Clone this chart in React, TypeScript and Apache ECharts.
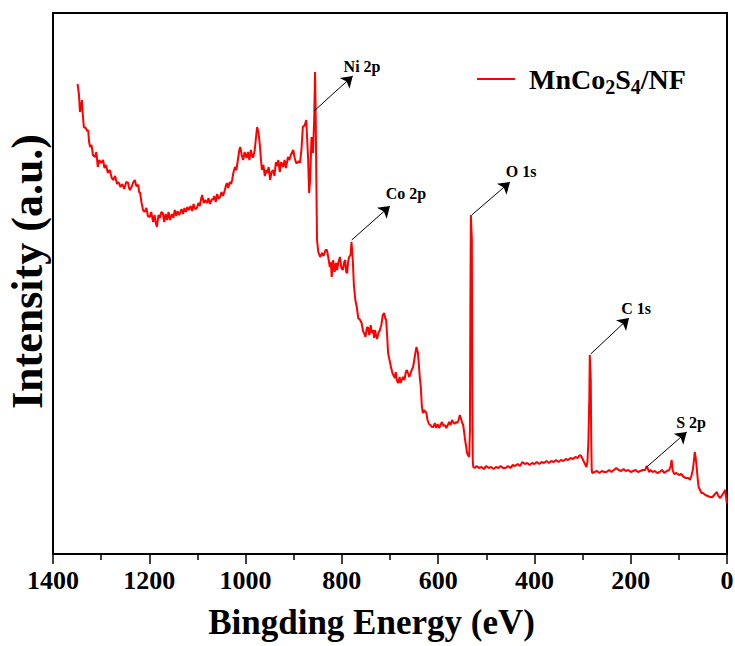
import React, { useEffect, useRef } from "react";
import * as echarts from "echarts";

const FONT = "'Liberation Serif', 'Times New Roman', serif";

// Binding energy (eV)
const energies = [
  1349, 1346, 1344, 1342, 1340, 1338, 1336, 1332, 1329, 1327, 1325, 1323, 1320, 1317, 1313, 1310, 1307, 1304, 1300, 1296,
  1293, 1290, 1286, 1282, 1278, 1275, 1271, 1267, 1264, 1260, 1256, 1252, 1248, 1244, 1242, 1240, 1236, 1233, 1230, 1227,
  1223, 1221, 1219, 1216, 1213, 1210, 1206, 1203, 1199, 1196, 1192, 1189, 1186, 1184, 1181, 1178, 1175, 1172, 1169, 1166,
  1163, 1160, 1157, 1153, 1150, 1147, 1144, 1141, 1138, 1136, 1133, 1130, 1127, 1124, 1121, 1118, 1114, 1111, 1108, 1105,
  1101, 1098, 1095, 1092, 1090, 1087, 1084, 1080, 1077, 1074, 1070, 1068, 1065, 1062, 1059, 1056, 1053, 1050, 1047, 1043,
  1041, 1039, 1036, 1033, 1030, 1028, 1025, 1022, 1019, 1016, 1013, 1011, 1008, 1005, 1002, 998, 995, 992, 989, 986,
  984, 981, 978, 976, 973, 970, 968, 966, 963, 960, 957, 955, 952, 949, 946, 943, 940, 937, 934, 932,
  929, 926, 922, 919, 916, 912, 909, 906, 903, 901, 898, 895, 893, 890, 887, 884, 881, 877, 874, 870,
  868, 866, 863, 860, 857.5, 855.7, 854.5, 853, 851.6, 849, 845, 841, 838, 834, 831, 828, 825, 823, 821, 818,
  815, 812, 810, 807, 804, 801, 798, 795, 793, 791, 789, 787, 785, 782, 780, 779, 777, 775, 772, 769,
  766, 762, 759, 756, 753, 751, 748, 746, 743, 740, 738, 735, 733, 731, 729, 727, 724, 721, 718, 715,
  712, 710, 708, 706, 704, 701, 698, 695, 693, 690, 688, 686, 683, 680, 678, 675, 673, 670, 667, 665,
  662, 660, 657, 655, 652, 648, 645, 642, 640, 638, 636, 634, 632, 629, 627, 625, 622, 619, 616, 613,
  610, 607, 604, 601, 598, 595, 592, 589, 586, 583, 580, 577, 574, 571, 569, 566, 563, 560, 557, 555,
  553, 550, 548, 546, 544, 542, 540, 537, 535.5, 534, 533, 532, 531, 530, 529, 528, 527, 524, 520, 515,
  510, 505, 500, 495, 490, 485, 480, 475, 470, 465, 460, 455, 450, 445, 440, 435, 430, 425, 420, 415,
  410, 405, 400, 395, 390, 385, 380, 375, 370, 365, 360, 355, 350, 345, 340, 335, 330, 325, 320, 315,
  310, 306, 303, 300, 297, 294, 292, 290, 288, 286, 285, 284, 283, 282, 281, 280, 275, 270, 265, 260,
  255, 250, 245, 240, 235, 230, 225, 220, 215, 210, 205, 200, 195, 190, 185, 180, 175, 170, 167, 165,
  162, 158, 155, 150, 145, 140, 135, 130, 125, 120, 117, 115, 113, 110, 105, 100, 95, 90, 85, 80,
  77, 74, 71, 69, 67, 65, 63, 61, 59, 56, 53, 50, 45, 40, 35, 30, 25, 21, 18, 14,
  10, 6, 4, 2, 0.5,
];

// Intensity (a.u.)
const intensities = [
  470, 459, 442, 446, 454, 439, 427, 426, 423, 424, 412, 407, 409, 399, 397, 402, 387, 394, 391, 394,
  386, 389, 381, 384, 376, 374, 378, 370, 372, 367, 370, 365, 372, 371, 366, 364, 368, 372, 374, 368,
  369, 362, 361, 351, 344, 342, 346, 338, 337, 342, 332, 339, 330, 327, 339, 336, 342, 341, 332, 340,
  334, 342, 334, 340, 336, 344, 338, 343, 339, 341, 345, 340, 346, 342, 347, 344, 348, 343, 350, 345,
  346, 351, 348, 356, 359, 351, 354, 351, 356, 350, 355, 354, 358, 352, 360, 355, 357, 362, 358, 364,
  368, 371, 366, 372, 370, 374, 382, 387, 384, 394, 404, 407, 399, 394, 402, 396, 402, 394, 404, 397,
  397, 404, 418, 427, 421, 407, 394, 384, 389, 378, 384, 381, 387, 374, 382, 384, 378, 392, 388, 394,
  382, 392, 387, 394, 386, 397, 394, 399, 402, 404, 396, 391, 391, 393, 391, 404, 427, 429, 434, 394,
  361, 374, 417, 401, 434, 482, 444, 374, 314, 302, 297, 301, 298, 304, 304, 296, 287, 292, 277, 294,
  282, 291, 284, 292, 297, 286, 284, 292, 294, 282, 281, 292, 297, 299, 312, 312, 291, 269, 254, 247,
  236, 234, 231, 223, 220, 217, 226, 227, 219, 229, 221, 224, 216, 224, 219, 215, 221, 224, 229, 239,
  241, 236, 234, 219, 201, 194, 187, 181, 179, 176, 182, 174, 171, 177, 171, 175, 177, 174, 182, 184,
  180, 177, 181, 184, 187, 199, 207, 201, 189, 176, 167, 149, 141, 144, 142, 142, 134, 130, 129, 127,
  127, 131, 126, 130, 126, 129, 132, 128, 129, 126, 129, 132, 129, 134, 132, 130, 132, 131, 135, 139,
  136, 131, 129, 122, 114, 108, 101, 98, 97, 124, 254, 339, 339, 314, 154, 92, 87, 86, 88, 86,
  87, 85, 88, 86, 87, 85, 87, 86, 88, 86, 86, 88, 86, 89, 88, 90, 88, 92, 90, 91,
  89, 91, 90, 92, 90, 92, 91, 93, 91, 93, 92, 94, 92, 94, 93, 95, 94, 96, 95, 97,
  96, 99, 98, 95, 92, 89, 87, 92, 111, 154, 199, 199, 174, 114, 84, 81, 82, 83, 81, 83,
  82, 82, 84, 82, 84, 86, 84, 83, 85, 83, 84, 82, 83, 84, 82, 83, 84, 84, 88, 86,
  82, 84, 82, 83, 81, 82, 84, 81, 83, 84, 88, 94, 84, 80, 81, 79, 80, 77, 76, 76,
  74, 78, 84, 92, 102, 96, 87, 76, 67, 64, 61, 61, 59, 58, 57, 57, 60, 62, 58, 56,
  59, 62, 64, 57, 51,
];

// Peak annotations: label, arrow start [E, I], arrow tip [E, I], label centre [E, I]
const peakLabels = ["Ni 2p", "Co 2p", "O 1s", "C 1s", "S 2p"];
const arrowStarts = [[857.8, 443], [779.5, 314], [530.2, 339], [283.1, 200], [166.7, 87]];
const arrowTips = [[777.4, 478], [700, 348], [450.7, 372], [203.5, 236], [83.6, 122]];
const labelCentres = [[758, 488], [666.7, 361], [427.8, 383], [188.9, 246], [74.7, 132]];

const xTicks = { min: 0, max: 1400, interval: 200 };

export default function App() {
  const ref = useRef<HTMLDivElement>(null);

  useEffect(() => {
    if (!ref.current) return;
    const chart = echarts.init(ref.current, undefined, { renderer: "svg" });
    const data = energies.map((e, i) => [e, intensities[i]]);
    chart.setOption({
      animation: false,
      backgroundColor: "#fff",
      grid: {
        left: 53,
        right: 8,
        top: 13,
        bottom: 92,
        show: true,
        borderColor: "#000",
        borderWidth: 2,
        containLabel: false,
        outerBoundsMode: "none",
      },
      legend: {
        left: 472,
        top: 60,
        itemWidth: 38,
        itemHeight: 14,
        icon: "path://M0,6 L38,6 L38,8 L0,8 Z",
        data: ["MnCo2S4/NF"],
        formatter: () => "{a|MnCo}{s|2}{a|S}{s|4}{a|/NF}",
        textStyle: {
          padding: [0, 0, 0, 9],
          rich: {
            a: { fontFamily: FONT, fontWeight: "bold", fontSize: 28, color: "#000" },
            s: {
              fontFamily: FONT,
              fontWeight: "bold",
              fontSize: 20,
              color: "#000",
              padding: [16, 0, 0, 0],
            },
          },
        },
      },
      xAxis: {
        type: "value",
        inverse: true,
        min: xTicks.min,
        max: xTicks.max,
        interval: xTicks.interval,
        name: "Bingding Energy (eV)",
        nameLocation: "middle",
        nameGap: 51,
        nameTextStyle: {
          fontFamily: FONT,
          fontWeight: "bold",
          fontSize: 35,
          color: "#000",
          padding: [0, 37, 0, 0],
        },
        axisLine: { lineStyle: { color: "#000", width: 2 } },
        axisTick: { show: true, length: 10, lineStyle: { color: "#000", width: 1.5 } },
        minorTick: { show: true, splitNumber: 2, length: 6, lineStyle: { color: "#000", width: 1.5 } },
        axisLabel: {
          fontFamily: FONT,
          fontWeight: "bold",
          fontSize: 26,
          color: "#000",
          margin: 13,
          formatter: (v: number) => String(v),
        },
        splitLine: { show: false },
      },
      yAxis: {
        type: "value",
        min: 0,
        max: 541,
        name: "Intensity (a.u.)",
        nameLocation: "middle",
        nameGap: 4,
        nameTextStyle: {
          fontFamily: FONT,
          fontWeight: "bold",
          fontSize: 44,
          color: "#000",
          padding: [0, 0, 0, 24],
        },
        axisLine: { show: true, lineStyle: { color: "#000", width: 2 } },
        axisTick: { show: false },
        axisLabel: { show: false },
        splitLine: { show: false },
      },
      series: [
        {
          name: "MnCo2S4/NF",
          type: "line",
          data,
          symbol: "none",
          lineStyle: { color: "#ff0000", width: 2 },
          itemStyle: { color: "#ff0000" },
          markLine: {
            silent: true,
            symbol: ["none", "arrow"],
            symbolSize: 11,
            label: { show: false },
            lineStyle: { color: "#000", width: 1, type: "solid" },
            emphasis: { disabled: true },
            data: arrowStarts.map((s, i) => [{ coord: s }, { coord: arrowTips[i] }]),
          },
          markPoint: {
            silent: true,
            symbol: "circle",
            symbolSize: 0,
            data: labelCentres.map((c, i) => ({
              coord: c,
              name: peakLabels[i],
              label: {
                show: true,
                position: "inside",
                formatter: peakLabels[i],
                fontFamily: FONT,
                fontWeight: "bold",
                fontSize: 16,
                color: "#000",
              },
            })),
          },
        },
      ],
    });
    return () => chart.dispose();
  }, []);

  return (
    <div
      ref={ref}
      style={{ position: "fixed", left: 0, top: 0, width: 735, height: 646 }}
    />
  );
}
